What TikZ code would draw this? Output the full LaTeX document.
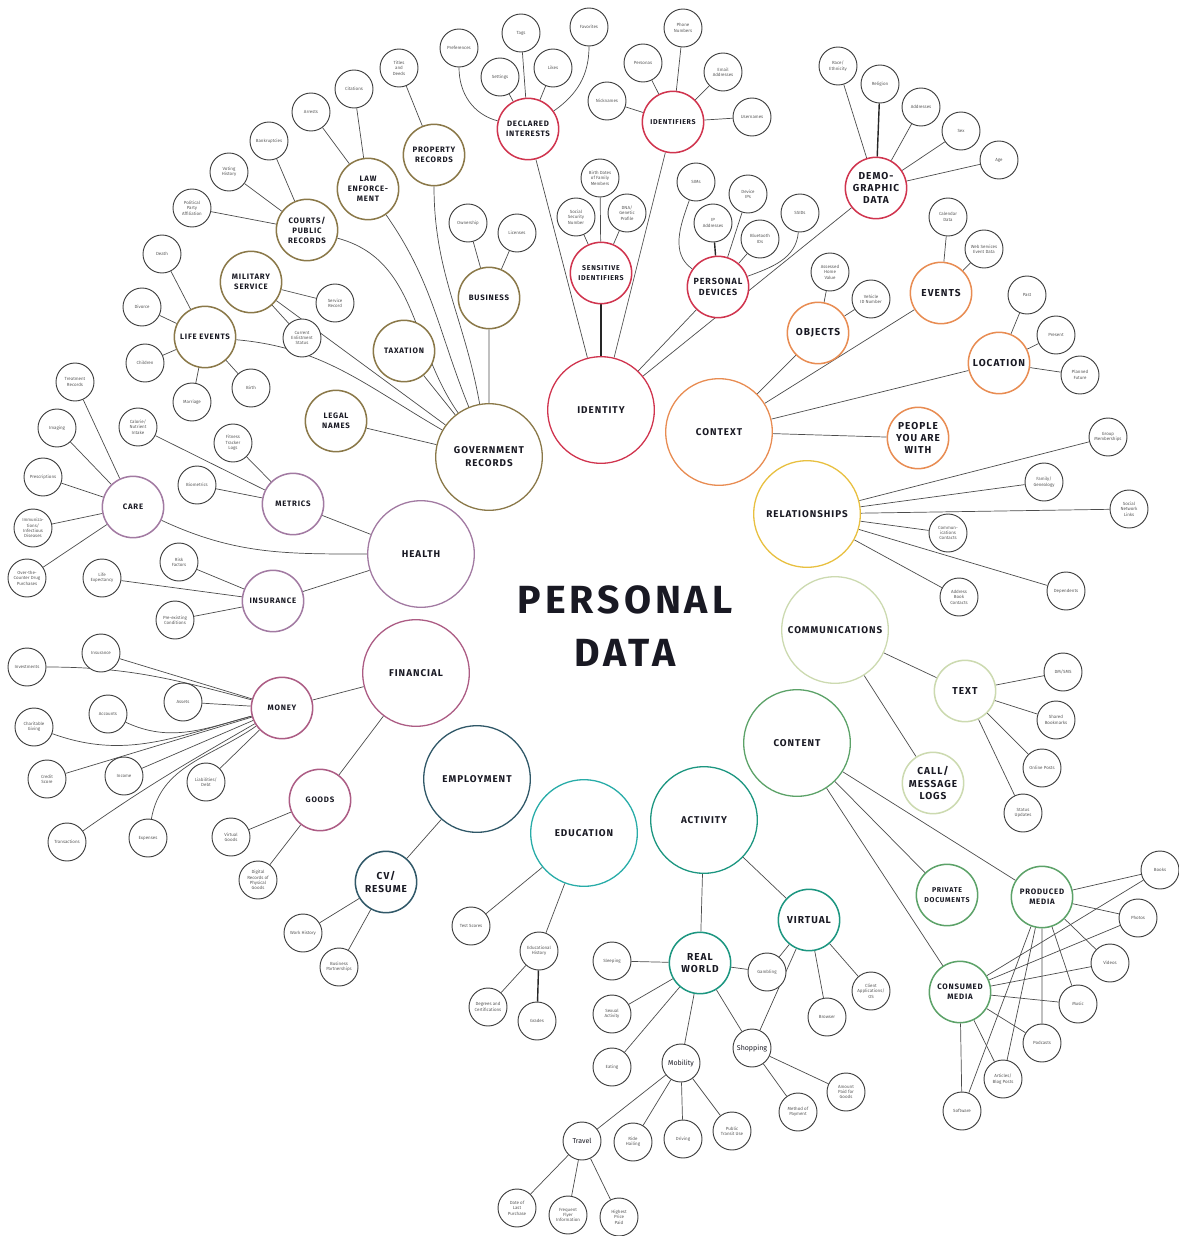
\documentclass[tikz,border=0pt]{standalone}
\usepackage{fontspec}
\setmainfont{Fira Sans}
\newfontfamily\capsfont[LetterSpace=10]{Fira Sans}
\usetikzlibrary{backgrounds}
\definecolor{gov}{RGB}{138,120,72}
\definecolor{idc}{RGB}{208,52,78}
\definecolor{ctxc}{RGB}{232,140,82}
\definecolor{relc}{RGB}{232,192,64}
\definecolor{comc}{RGB}{204,218,176}
\definecolor{conc}{RGB}{92,162,104}
\definecolor{actc}{RGB}{28,150,128}
\definecolor{educ}{RGB}{40,172,168}
\definecolor{empc}{RGB}{48,88,104}
\definecolor{finc}{RGB}{172,92,132}
\definecolor{hlc}{RGB}{162,122,162}
\definecolor{ink}{RGB}{25,25,35}
\tikzset{
  hub/.style={circle,draw=#1,line width=1.1pt,fill=white,minimum size=3.2cm,inner sep=0pt,align=center,text=ink,font=\capsfont\bfseries\fontsize{8.4}{11}\selectfont},
  sub/.style={circle,draw=#1,line width=1.3pt,fill=white,minimum size=1.84cm,inner sep=0pt,align=center,text=ink,font=\capsfont\bfseries\fontsize{6.7}{8.6}\selectfont},
  bigcap/.style={font=\capsfont\bfseries\fontsize{8.6}{10.5}\selectfont},
  smallcap/.style={font=\capsfont\bfseries\fontsize{6}{8}\selectfont},
  leaf/.style={circle,draw=black!75,line width=0.8pt,fill=white,minimum size=1.14cm,inner sep=0pt,align=center,text=black!65,font=\fontsize{3.8}{4.6}\selectfont},
  midleaf/.style={leaf,text=ink,font=\fontsize{6}{7}\selectfont},
  link/.style={draw=black!70,line width=0.6pt},
  heavy/.style={draw=black!85,line width=1.2pt}
}
\begin{document}
\begin{tikzpicture}[x=0.03cm,y=-0.03cm]
\useasboundingbox (0,0) rectangle (1178,1236);
\node[font=\capsfont\bfseries\fontsize{33.5}{45}\selectfont,text=ink,align=center] (title) at (625,626) {PERSONAL\\DATA};

\node[hub=gov] (gov) at (489,457) {GOVERNMENT\\RECORDS};
\node[sub=gov] (prop) at (434,155) {PROPERTY\\RECORDS};
\node[sub=gov] (law) at (368,189) {LAW\\ENFORCE-\\MENT};
\node[sub=gov] (court) at (307,230) {COURTS/\\PUBLIC\\RECORDS};
\node[sub=gov] (mil) at (251,282) {MILITARY\\SERVICE};
\node[sub=gov] (life) at (205,337) {LIFE EVENTS};
\node[sub=gov] (tax) at (404,351) {TAXATION};
\node[sub=gov] (legal) at (336,421) {LEGAL\\NAMES};
\node[sub=gov] (bus) at (489,298) {BUSINESS};
\node[leaf] (titles) at (399,68) {Titles\\and\\Deeds};
\node[leaf] (cit) at (354,89) {Citations};
\node[leaf] (arr) at (311,112) {Arrests};
\node[leaf] (bank) at (269,141) {Bankruptcies};
\node[leaf] (vote) at (229,172) {Voting\\History};
\node[leaf] (party) at (192,208) {Political\\Party\\Affiliation};
\node[leaf] (death) at (162,254) {Death};
\node[leaf] (divorce) at (142,307) {Divorce};
\node[leaf] (children) at (145,363) {Children};
\node[leaf] (marriage) at (192,402) {Marriage};
\node[leaf] (birth) at (251,388) {Birth};
\node[leaf] (servrec) at (335,303) {Service\\Record};
\node[leaf] (enlist) at (302,338) {Current\\Enlistment\\Status};
\node[leaf] (own) at (468,223) {Ownership};
\node[leaf] (lic) at (517,233) {Licenses};

\node[hub=idc] (idt) at (601,410) {IDENTITY};
\node[sub=idc] (di) at (528,129) {DECLARED\\INTERESTS};
\node[sub=idc,smallcap] (ids) at (673,122) {IDENTIFIERS};
\node[sub=idc,smallcap] (sens) at (601,273) {SENSITIVE\\IDENTIFIERS};
\node[sub=idc,font=\capsfont\bfseries\fontsize{7.6}{10}\selectfont] (pd) at (718,287) {PERSONAL\\DEVICES};
\node[sub=idc,bigcap] (demo) at (876,188) {DEMO-\\GRAPHIC\\DATA};
\node[leaf] (pref) at (459,48) {Preferences};
\node[leaf] (tags) at (521,33) {Tags};
\node[leaf] (fav) at (589,27) {Favorites};
\node[leaf] (sett) at (500,77) {Settings};
\node[leaf] (likes) at (553,68) {Likes};
\node[leaf] (persona) at (643,63) {Personas};
\node[leaf] (phone) at (683,28) {Phone\\Numbers};
\node[leaf] (email) at (723,72) {Email\\Addresses};
\node[leaf] (nick) at (607,101) {Nicknames};
\node[leaf] (user) at (752,117) {Usernames};
\node[leaf] (bdates) at (600,178) {Birth Dates\\of Family\\Members};
\node[leaf] (ssn) at (576,217) {Social\\Security\\Number};
\node[leaf] (dna) at (627,213) {DNA/\\Genetic\\Profile};
\node[leaf] (sims) at (696,182) {SIMs};
\node[leaf] (devip) at (748,194) {Device\\IPs};
\node[leaf] (ipaddr) at (713,223) {IP\\Addresses};
\node[leaf] (bt) at (760,239) {Bluetooth\\IDs};
\node[leaf] (ssid) at (800,213) {SSIDs};
\node[leaf] (race) at (838,66) {Race/\\Ethnicity};
\node[leaf] (relig) at (880,84) {Religion};
\node[leaf] (addr) at (921,107) {Addresses};
\node[leaf] (sex) at (961,131) {Sex};
\node[leaf] (age) at (999,160) {Age};

\node[hub=ctxc] (ctx) at (719,432) {CONTEXT};
\node[sub=ctxc,bigcap] (obj) at (818,333) {OBJECTS};
\node[sub=ctxc,bigcap] (events) at (941,293) {EVENTS};
\node[sub=ctxc,bigcap] (loc) at (999,363) {LOCATION};
\node[sub=ctxc,bigcap] (people) at (918,438) {PEOPLE\\YOU ARE\\WITH};
\node[leaf] (home) at (830,272) {Assessed\\Home\\Value};
\node[leaf] (vin) at (871,299) {Vehicle\\ID Number};
\node[leaf] (cal) at (948,217) {Calendar\\Data};
\node[leaf] (web) at (984,249) {Web Services\\Event Data};
\node[leaf] (past) at (1027,295) {Past};
\node[leaf] (present) at (1056,335) {Present};
\node[leaf] (future) at (1080,375) {Planned\\Future};

\node[hub=relc] (rel) at (807,514) {RELATIONSHIPS};
\node[leaf] (group) at (1108,437) {Group\\Memberships};
\node[leaf] (family) at (1044,482) {Family/\\Genealogy};
\node[leaf] (social) at (1129,509) {Social\\Network\\Links};
\node[leaf] (ccont) at (948,533) {Commun-\\ications\\Contacts};
\node[leaf] (abook) at (959,597) {Address\\Book\\Contacts};
\node[leaf] (dep) at (1066,591) {Dependents};

\node[hub=comc] (comm) at (835,630) {COMMUNICATIONS};
\node[sub=comc,bigcap] (text) at (965,691) {TEXT};
\node[sub=comc,bigcap] (calllog) at (933,783) {CALL/\\MESSAGE\\LOGS};
\node[leaf] (dm) at (1063,672) {DM/SMS};
\node[leaf] (bm) at (1056,720) {Shared\\Bookmarks};
\node[leaf] (posts) at (1042,768) {Online Posts};
\node[leaf] (status) at (1023,813) {Status\\Updates};

\node[hub=conc] (content) at (797,743) {CONTENT};
\node[sub=conc,smallcap] (priv) at (947,895) {PRIVATE\\DOCUMENTS};
\node[sub=conc] (prodm) at (1042,897) {PRODUCED\\MEDIA};
\node[sub=conc] (consm) at (960,992) {CONSUMED\\MEDIA};
\node[leaf] (books) at (1160,870) {Books};
\node[leaf] (photos) at (1138,918) {Photos};
\node[leaf] (videos) at (1110,963) {Videos};
\node[leaf] (music) at (1078,1004) {Music};
\node[leaf] (podc) at (1042,1043) {Podcasts};
\node[leaf] (blog) at (1003,1079) {Articles/\\Blog Posts};
\node[leaf] (soft) at (962,1111) {Software};

\node[hub=actc] (act) at (704,820) {ACTIVITY};
\node[sub=actc,bigcap] (real) at (700,963) {REAL\\WORLD};
\node[sub=actc,bigcap] (virt) at (809,920) {VIRTUAL};
\node[leaf] (sleep) at (612,961) {Sleeping};
\node[leaf] (sexact) at (612,1014) {Sexual\\Activity};
\node[leaf] (eat) at (612,1067) {Eating};
\node[leaf] (gamb) at (767,972) {Gambling};
\node[midleaf] (mob) at (681,1063) {Mobility};
\node[midleaf] (shop) at (752,1048) {Shopping};
\node[midleaf] (travel) at (582,1141) {Travel};
\node[leaf] (ride) at (633,1142) {Ride\\Hailing};
\node[leaf] (drive) at (683,1139) {Driving};
\node[leaf] (transit) at (732,1131) {Public\\Transit Use};
\node[leaf] (dlp) at (517,1208) {Date of\\Last\\Purchase};
\node[leaf] (ffi) at (568,1215) {Frequent\\Flyer\\Information};
\node[leaf] (hpp) at (619,1217) {Highest\\Price\\Paid};
\node[leaf] (browser) at (827,1017) {Browser};
\node[leaf] (client) at (871,991) {Client\\Applications/\\OS};
\node[leaf] (method) at (798,1112) {Method of\\Payment};
\node[leaf] (amount) at (846,1092) {Amount\\Paid for\\Goods};

\node[hub=educ] (edu) at (584,833) {EDUCATION};
\node[leaf] (test) at (471,926) {Test Scores};
\node[leaf] (eduhist) at (539,951) {Educational\\History};
\node[leaf] (degree) at (488,1007) {Degrees and\\Certifications};
\node[leaf] (grades) at (537,1021) {Grades};

\node[hub=empc] (emp) at (477,779) {EMPLOYMENT};
\node[sub=empc,bigcap] (cv) at (386,882) {CV/\\RESUME};
\node[leaf] (work) at (303,933) {Work History};
\node[leaf] (bpart) at (339,967) {Business\\Partnerships};

\node[hub=finc] (fin) at (416,673) {FINANCIAL};
\node[sub=finc] (money) at (282,708) {MONEY};
\node[sub=finc] (goods) at (320,800) {GOODS};
\node[leaf] (finins) at (101,653) {Insurance};
\node[leaf] (invest) at (27,667) {Investments};
\node[leaf] (assets) at (183,702) {Assets};
\node[leaf] (accts) at (108,714) {Accounts};
\node[leaf] (charity) at (34,727) {Charitable\\Giving};
\node[leaf] (credit) at (47,779) {Credit\\Score};
\node[leaf] (income) at (124,776) {Income};
\node[leaf] (debt) at (206,782) {Liabilities/\\Debt};
\node[leaf] (trans) at (67,842) {Transactions};
\node[leaf] (expense) at (148,838) {Expenses};
\node[leaf] (vgoods) at (231,837) {Virtual\\Goods};
\node[leaf] (drec) at (258,880) {Digital\\Records of\\Physical\\Goods};

\node[hub=hlc] (health) at (421,554) {HEALTH};
\node[sub=hlc] (care) at (133,507) {CARE};
\node[sub=hlc] (metrics) at (293,504) {METRICS};
\node[sub=hlc] (hins) at (273,601) {INSURANCE};
\node[leaf] (treat) at (75,382) {Treatment\\Records};
\node[leaf] (imaging) at (57,428) {Imaging};
\node[leaf] (presc) at (43,477) {Prescriptions};
\node[leaf] (immun) at (33,528) {Immuniza-\\tions/\\Infectious\\Diseases};
\node[leaf] (otc) at (27,578) {Over-the-\\Counter Drug\\Purchases};
\node[leaf] (calorie) at (138,427) {Calorie/\\Nutrient\\Intake};
\node[leaf] (fitness) at (233,443) {Fitness\\Tracker\\Logs};
\node[leaf] (biom) at (197,485) {Biometrics};
\node[leaf] (risk) at (179,562) {Risk\\Factors};
\node[leaf] (lifeexp) at (102,578) {Life\\Expectancy};
\node[leaf] (preex) at (175,620) {Pre-existing\\Conditions};

\begin{scope}[on background layer]
\draw[link] (prop) -- (titles);
\draw[link] (law) -- (cit) (law) -- (arr);
\draw[link] (court) -- (bank) (court) -- (vote) (court) -- (party);
\draw[link] (mil) -- (servrec) (mil) -- (enlist);
\draw[link] (life) -- (death) (life) -- (divorce) (life) -- (children) (life) -- (marriage) (life) -- (birth);
\draw[link] (bus) -- (own) (bus) -- (lic);
\draw[link] (gov) -- (bus) (gov) -- (tax) (gov) -- (legal) (gov) -- (mil);
\draw[link] (prop) to[out=-90,in=100] (gov);
\draw[link] (law) to[out=-55,in=112] (gov);
\draw[link] (court) to[out=-15,in=125] (gov);
\draw[link] (life) to[out=-5,in=150] (gov);

\draw[link] (idt) -- (di) (idt) -- (ids) (idt) -- (pd) (idt) -- (demo);
\draw[heavy] (idt) -- (sens);
\draw[link] (di) -- (tags) (di) -- (sett) (di) -- (likes);
\draw[link] (pref) to[out=-90,in=165] (di);
\draw[link] (fav) to[out=-90,in=35] (di);
\draw[link] (ids) -- (persona) (ids) -- (phone) (ids) -- (email) (ids) -- (nick) (ids) -- (user);
\draw[link] (sens) -- (bdates) (sens) -- (ssn) (sens) -- (dna);
\draw[link] (pd) -- (devip) (pd) -- (bt);
\draw[heavy] (pd) -- (ipaddr);
\draw[link] (sims) to[out=-110,in=145] (pd);
\draw[link] (ssid) to[out=-95,in=20] (pd);
\draw[link] (demo) -- (race) (demo) -- (addr) (demo) -- (sex) (demo) -- (age);
\draw[heavy] (demo) -- (relig);

\draw[link] (ctx) -- (obj) (ctx) -- (events) (ctx) -- (loc) (ctx) -- (people);
\draw[link] (obj) -- (home) (obj) -- (vin);
\draw[link] (events) -- (cal) (events) -- (web);
\draw[link] (loc) -- (past) (loc) -- (present) (loc) -- (future);

\draw[link] (rel) -- (group) (rel) -- (family) (rel) -- (social) (rel) -- (ccont) (rel) -- (abook) (rel) -- (dep);

\draw[link] (comm) -- (text) (comm) -- (calllog);
\draw[link] (text) -- (dm) (text) -- (bm) (text) -- (posts) (text) -- (status);

\draw[link] (content) -- (priv) (content) -- (prodm) (content) -- (consm);
\draw[link] (prodm) -- (books) (prodm) -- (photos) (prodm) -- (videos) (prodm) -- (music) (prodm) -- (podc) (prodm) -- (blog) (prodm) -- (soft);
\draw[link] (consm) -- (books) (consm) -- (photos) (consm) -- (videos) (consm) -- (music) (consm) -- (podc) (consm) -- (blog) (consm) -- (soft);

\draw[link] (act) -- (real) (act) -- (virt);
\draw[link] (real) -- (sleep) (real) -- (sexact) (real) -- (eat) (real) -- (mob) (real) -- (shop) (real) -- (gamb);
\draw[link] (virt) -- (gamb) (virt) -- (shop) (virt) -- (browser) (virt) -- (client);
\draw[link] (mob) -- (travel) (mob) -- (ride) (mob) -- (drive) (mob) -- (transit);
\draw[link] (travel) -- (dlp) (travel) -- (ffi) (travel) -- (hpp);
\draw[link] (shop) -- (method) (shop) -- (amount);

\draw[link] (edu) -- (test) (edu) -- (eduhist) (eduhist) -- (degree);
\draw[heavy] (eduhist) -- (grades);
\draw[link] (emp) -- (cv) (cv) -- (work) (cv) -- (bpart);

\draw[link] (fin) -- (money) (fin) -- (goods);
\draw[link] (money) -- (finins) (money) -- (assets) (money) -- (credit) (money) -- (income) (money) -- (debt);
\draw[link] (invest) to[out=0,in=165] (money);
\draw[link] (accts) to[out=-25,in=195] (money);
\draw[link] (charity) to[out=-20,in=195] (money);
\draw[link] (trans) to[out=35,in=210] (money);
\draw[link] (expense) to[out=80,in=215] (money);
\draw[link] (goods) -- (vgoods) (goods) -- (drec);

\draw[link] (health) -- (metrics) (health) -- (hins);
\draw[link] (care) to[out=-25,in=180] (health);
\draw[link] (care) -- (treat) (care) -- (imaging) (care) -- (presc) (care) -- (immun) (care) -- (otc);
\draw[link] (metrics) -- (calorie) (metrics) -- (fitness) (metrics) -- (biom);
\draw[link] (hins) -- (risk) (hins) -- (lifeexp) (hins) -- (preex);
\end{scope}
\end{tikzpicture}
\end{document}
